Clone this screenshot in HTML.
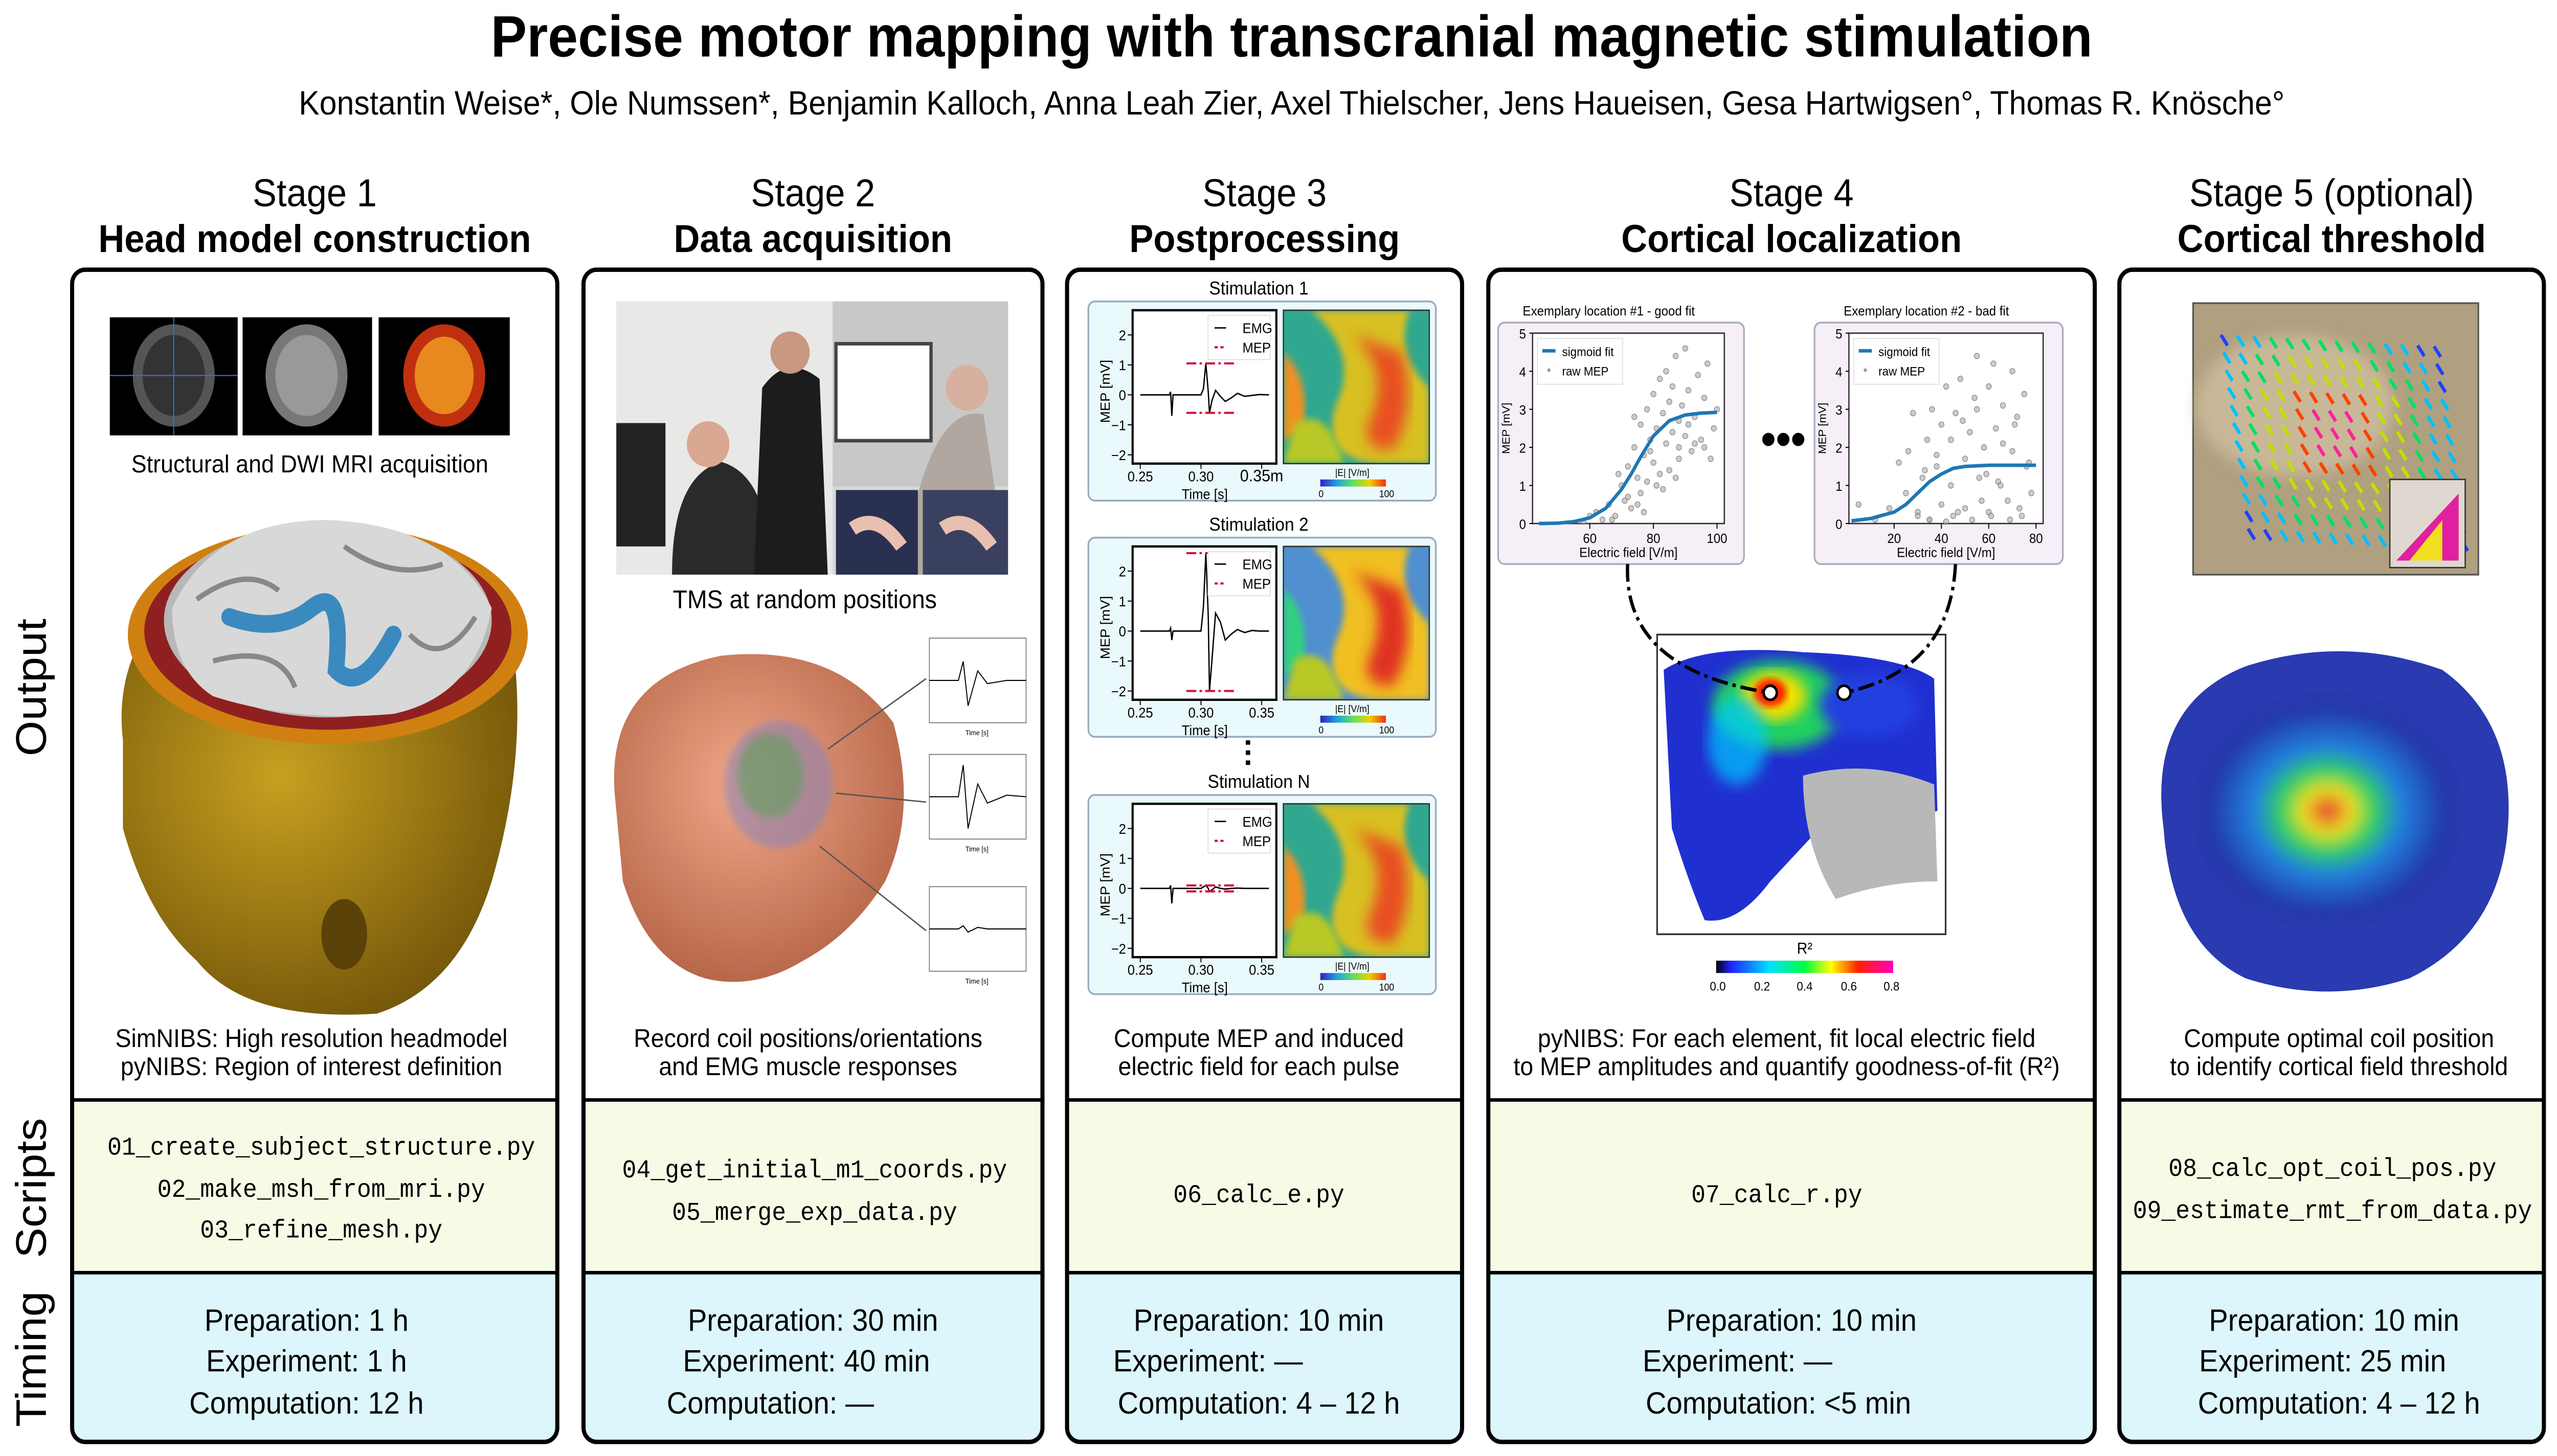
<!DOCTYPE html>
<html><head><meta charset="utf-8"><style>html,body{margin:0;padding:0;background:#fff;width:100%;height:100%;overflow:hidden}svg{display:block;width:100vw;height:100vh}text{font-family:"Liberation Sans",sans-serif}.mono{font-family:"Liberation Mono",monospace}</style></head>
<body>
<svg id="fig" xmlns="http://www.w3.org/2000/svg" viewBox="0 0 1560 826" preserveAspectRatio="none">
<defs>
<filter id="blur4"><feGaussianBlur stdDeviation="4"/></filter>
<filter id="blur2"><feGaussianBlur stdDeviation="2"/></filter>
<linearGradient id="jet" x1="0" x2="1"><stop offset="0" stop-color="#3020c0"/><stop offset=".25" stop-color="#20a0e0"/><stop offset=".5" stop-color="#60e060"/><stop offset=".75" stop-color="#f0d000"/><stop offset="1" stop-color="#f03010"/></linearGradient>
<linearGradient id="hsv" x1="0" x2="1"><stop offset="0" stop-color="#000"/><stop offset=".08" stop-color="#2020ff"/><stop offset=".3" stop-color="#00e0ff"/><stop offset=".5" stop-color="#00ff40"/><stop offset=".65" stop-color="#ffff00"/><stop offset=".8" stop-color="#ff2000"/><stop offset="1" stop-color="#ff00c0"/></linearGradient>
<radialGradient id="brainblue" cx=".5" cy=".5" r=".5"><stop offset="0" stop-color="#e03030"/><stop offset=".2" stop-color="#f0e020"/><stop offset=".38" stop-color="#30d060"/><stop offset=".6" stop-color="#2080e0"/><stop offset="1" stop-color="#2030a0"/></radialGradient>
<radialGradient id="headg" cx=".45" cy=".4" r=".6"><stop offset="0" stop-color="#f0a888"/><stop offset="1" stop-color="#b8684a"/></radialGradient>
<radialGradient id="head1" cx=".4" cy=".4" r=".7"><stop offset="0" stop-color="#c8a020"/><stop offset="1" stop-color="#6e5208"/></radialGradient>
</defs>
<rect width="1560" height="826" fill="#fff"/>
<text x="788" y="32" font-size="33" font-weight="bold" text-anchor="middle">Precise motor mapping with transcranial magnetic stimulation</text>
<text x="788" y="65" font-size="19" text-anchor="middle">Konstantin Weise*, Ole Numssen*, Benjamin Kalloch, Anna Leah Zier, Axel Thielscher, Jens Haueisen, Gesa Hartwigsen°, Thomas R. Knösche°</text>

<g font-size="26">
<text transform="translate(28,390) rotate(-90)" text-anchor="middle">Output</text>
<text transform="translate(28,674) rotate(-90)" text-anchor="middle">Scripts</text>
<text transform="translate(28,771) rotate(-90)" text-anchor="middle">Timing</text>
</g>

<g id="panels"></g>

<g>
<rect x="67" y="180" width="78" height="67" fill="#000"/><ellipse cx="106" cy="213" rx="25" ry="29" fill="#555"/><ellipse cx="106" cy="213" rx="19" ry="23" fill="#333"/>
<rect x="148" y="180" width="79" height="67" fill="#000"/><ellipse cx="187" cy="213" rx="25" ry="29" fill="#777"/><ellipse cx="187" cy="213" rx="19" ry="23" fill="#999"/>
<rect x="231" y="180" width="80" height="67" fill="#000"/><ellipse cx="271" cy="213" rx="25" ry="29" fill="#c03010"/><ellipse cx="271" cy="213" rx="18" ry="22" fill="#f0a020" opacity=".8"/>
<line x1="67" y1="213" x2="145" y2="213" stroke="#4070c0" stroke-width=".6"/><line x1="106" y1="180" x2="106" y2="247" stroke="#4070c0" stroke-width=".6"/>
</g>
<text x="189" y="268" font-size="14" text-anchor="middle">Structural and DWI MRI acquisition</text>
<g>
<path d="M75 420 Q70 380 95 350 L310 350 Q325 420 300 500 Q280 560 230 575 Q150 580 120 545 Q90 520 75 470 Z" fill="url(#head1)"/>
<ellipse cx="210" cy="530" rx="14" ry="20" fill="#5a4208"/>
<ellipse cx="200" cy="360" rx="122" ry="62" fill="#d08010"/>
<ellipse cx="200" cy="358" rx="112" ry="56" fill="#902020"/>
<ellipse cx="200" cy="352" rx="100" ry="55" fill="#b8b8b8"/>
<path d="M105 345 Q130 295 200 295 Q275 298 300 345 Q290 395 240 405 Q180 410 130 395 Q105 380 105 345Z" fill="#d8d8d8"/>
<path d="M120 340 Q150 320 170 335 M210 310 Q240 330 270 320 M130 375 Q170 365 180 390 M250 360 Q270 380 290 350" fill="none" stroke="#888" stroke-width="3"/>
<path d="M140 350 Q170 360 190 345 Q210 330 205 380 Q220 395 240 360" fill="none" stroke="#3a8ac0" stroke-width="10" stroke-linecap="round"/>
</g>
<text x="190" y="594" font-size="14.5" text-anchor="middle">SimNIBS: High resolution headmodel</text>
<text x="190" y="610" font-size="14.5" text-anchor="middle">pyNIBS: Region of interest definition</text>

<g>
<rect x="376" y="171" width="239" height="155" fill="#d8d8d8"/>
<rect x="376" y="171" width="132" height="155" fill="#e8e8e6"/>
<rect x="508" y="171" width="107" height="105" fill="#c8c8c8"/>
<rect x="376" y="240" width="30" height="70" fill="#222"/>
<rect x="510" y="195" width="58" height="55" fill="#fff" stroke="#444" stroke-width="2"/>
<path d="M410 326 Q410 270 440 262 Q470 270 470 326Z" fill="#2a2a2a"/><circle cx="432" cy="252" r="13" fill="#d8a890"/>
<path d="M460 326 L465 220 Q480 200 500 215 L505 326Z" fill="#1c1c1c"/><circle cx="482" cy="200" r="12" fill="#c89880"/>
<path d="M560 280 Q575 230 600 235 L615 326 L560 326Z" fill="#b0a8a0"/><circle cx="590" cy="220" r="13" fill="#d8b0a0"/>
<rect x="510" y="278" width="50" height="48" fill="#2a3050"/><rect x="563" y="278" width="52" height="48" fill="#3a4060"/>
<path d="M520 300 Q535 290 550 310" stroke="#e8c0b0" stroke-width="8" fill="none"/><path d="M575 300 Q590 290 605 310" stroke="#e8c0b0" stroke-width="8" fill="none"/>
</g>
<text x="491" y="345" font-size="14.5" text-anchor="middle">TMS at random positions</text>
<g>
<path d="M375 450 Q370 385 440 372 Q510 365 545 410 Q560 460 540 500 Q520 530 490 545 Q460 562 430 555 Q395 545 380 500Z" fill="url(#headg)"/>
<ellipse cx="475" cy="445" rx="33" ry="36" fill="#8080c0" opacity=".5" filter="url(#blur2)"/>
<ellipse cx="470" cy="440" rx="20" ry="24" fill="#50a050" opacity=".5" filter="url(#blur2)"/>
<path d="M505 425 L565 385 M510 450 L565 455 M500 480 L565 528" stroke="#555" stroke-width=".8" fill="none"/>
</g>
<g id="mini"></g>
<text x="493" y="594" font-size="14.5" text-anchor="middle">Record coil positions/orientations</text>
<text x="493" y="610" font-size="14.5" text-anchor="middle">and EMG muscle responses</text>

<g id="stim"></g>
<text x="765" y="432" font-size="18" font-weight="bold" text-anchor="middle" transform="rotate(90 765 427)">…</text>
<text x="768" y="594" font-size="14.5" text-anchor="middle">Compute MEP and induced</text>
<text x="768" y="610" font-size="14.5" text-anchor="middle">electric field for each pulse</text>

<g id="fits"></g>
<text x="1088" y="258" font-size="26" font-weight="bold" text-anchor="middle">•••</text>
<g>
<rect x="1011" y="360" width="176" height="170" fill="#fff" stroke="#333" stroke-width="1"/>
<path d="M1015 380 Q1040 365 1100 370 Q1160 372 1180 385 L1182 460 Q1150 470 1120 460 Q1100 480 1080 500 Q1060 525 1040 522 Q1030 500 1020 470 Z" fill="#2030d0"/>
<ellipse cx="1085" cy="400" rx="40" ry="25" fill="#20d060" filter="url(#blur4)"/>
<ellipse cx="1082" cy="395" rx="20" ry="14" fill="#f0e000" filter="url(#blur4)"/>
<ellipse cx="1080" cy="393" rx="10" ry="8" fill="#ff2000" filter="url(#blur2)"/>
<ellipse cx="1060" cy="420" rx="18" ry="25" fill="#00c8ff" opacity=".7" filter="url(#blur4)"/>
<path d="M1100 440 Q1140 430 1180 445 L1182 500 Q1150 500 1120 510 Q1100 480 1100 440Z" fill="#b8b8b8"/>
<ellipse cx="1140" cy="400" rx="30" ry="18" fill="#2040e0" filter="url(#blur4)"/>
</g>
<path d="M993 320 Q990 380 1080 393" fill="none" stroke="#000" stroke-width="2" stroke-dasharray="10 3 2 3"/>
<path d="M1193 320 Q1190 380 1125 393" fill="none" stroke="#000" stroke-width="2" stroke-dasharray="10 3 2 3"/>
<circle cx="1080" cy="393" r="4" fill="#fff" stroke="#000" stroke-width="1.5"/>
<circle cx="1125" cy="393" r="4" fill="#fff" stroke="#000" stroke-width="1.5"/>
<g>
<text x="1101" y="541" font-size="9" text-anchor="middle">R²</text>
<rect x="1047" y="545" width="108" height="7" fill="url(#hsv)"/>
<g font-size="7" text-anchor="middle"><text x="1048" y="562">0.0</text><text x="1075" y="562">0.2</text><text x="1101" y="562">0.4</text><text x="1128" y="562">0.6</text><text x="1154" y="562">0.8</text></g>
</g>
<text x="1090" y="594" font-size="14.5" text-anchor="middle">pyNIBS: For each element, fit local electric field</text>
<text x="1090" y="610" font-size="14.5" text-anchor="middle">to MEP amplitudes and quantify goodness-of-fit (R²)</text>

<g>
<rect x="1338" y="172" width="174" height="154" fill="#b0a080" stroke="#555"/>
<ellipse cx="1400" cy="230" rx="60" ry="40" fill="#c8b898" filter="url(#blur4)"/>
<g id="arrows"></g>
<rect x="1458" y="272" width="46" height="50" fill="#e0d8d0" stroke="#333" stroke-width=".8"/>
<path d="M1462 318 L1500 280 L1500 318Z" fill="#e020a0"/><path d="M1470 318 L1490 295 L1490 318Z" fill="#f0e020"/>
</g>
<g>
<path d="M1320 470 Q1310 400 1370 378 Q1430 360 1490 380 Q1535 410 1530 470 Q1525 530 1470 555 Q1420 570 1370 555 Q1325 535 1320 470Z" fill="#2a3ab0"/>
<ellipse cx="1420" cy="460" rx="75" ry="60" fill="url(#brainblue)" filter="url(#blur4)"/>
</g>
<text x="1427" y="594" font-size="14.5" text-anchor="middle">Compute optimal coil position</text>
<text x="1427" y="610" font-size="14.5" text-anchor="middle">to identify cortical field threshold</text>

<g class="mono" font-size="14.5" text-anchor="middle">
<text class="mono" x="196" y="655">01_create_subject_structure.py</text>
<text class="mono" x="196" y="679">02_make_msh_from_mri.py</text>
<text class="mono" x="196" y="702">03_refine_mesh.py</text>
<text class="mono" x="497" y="668">04_get_initial_m1_coords.py</text>
<text class="mono" x="497" y="692">05_merge_exp_data.py</text>
<text class="mono" x="768" y="682">06_calc_e.py</text>
<text class="mono" x="1084" y="682">07_calc_r.py</text>
<text class="mono" x="1423" y="667">08_calc_opt_coil_pos.py</text>
<text class="mono" x="1423" y="691">09_estimate_rmt_from_data.py</text>
</g>
<g font-size="17.5" text-anchor="middle">
<text x="187" y="755">Preparation: 1 h</text><text x="187" y="778">Experiment: 1 h</text><text x="187" y="802">Computation: 12 h</text>
<text x="496" y="755">Preparation: 30 min</text><text x="492" y="778">Experiment: 40 min</text><text x="470" y="802">Computation: —</text>
<text x="768" y="755">Preparation: 10 min</text><text x="737" y="778">Experiment: —</text><text x="768" y="802">Computation: 4 – 12 h</text>
<text x="1093" y="755">Preparation: 10 min</text><text x="1060" y="778">Experiment: —</text><text x="1085" y="802">Computation: &lt;5 min</text>
<text x="1424" y="755">Preparation: 10 min</text><text x="1417" y="778">Experiment: 25 min</text><text x="1427" y="802">Computation: 4 – 12 h</text>
</g>
<g font-size="22" text-anchor="middle" id="heads"></g>
</svg>
<script>
const NS="http://www.w3.org/2000/svg";
function mk(tag,attrs,parent){const e=document.createElementNS(NS,tag);for(const k in attrs)e.setAttribute(k,attrs[k]);if(parent)parent.appendChild(e);return e;}

const stageNames=["Stage 1","Stage 2","Stage 3","Stage 4","Stage 5 (optional)"];
const stageTitles=["Head model construction","Data acquisition","Postprocessing","Cortical localization","Cortical threshold"];
const panelX=[[44,340],[356,636],[651,892],[908,1278],[1293,1552]];
const P=document.getElementById('panels'),H=document.getElementById('heads');
panelX.forEach((p,i)=>{
  const g=mk('g',{},P);
  
  
  const cp=mk('clipPath',{id:'cp'+i},g);mk('rect',{x:p[0],y:153,width:p[1]-p[0],height:665,rx:8},cp);
  const b=mk('g',{'clip-path':'url(#cp'+i+')'},g);
  mk('rect',{x:p[0],y:624,width:p[1]-p[0],height:98,fill:'#f6fbe6'},b);
  mk('rect',{x:p[0],y:722,width:p[1]-p[0],height:96,fill:'#dcf6fb'},b);
  mk('line',{x1:p[0],x2:p[1],y1:624,y2:624,stroke:'#000','stroke-width':2},g);
  mk('line',{x1:p[0],x2:p[1],y1:722,y2:722,stroke:'#000','stroke-width':2},g);
  mk('rect',{x:p[0],y:153,width:p[1]-p[0],height:665,rx:8,fill:'none',stroke:'#000','stroke-width':2.5},g);
  const cx=(p[0]+p[1])/2;
  const t1=mk('text',{x:cx,y:117},H);t1.textContent=stageNames[i];
  
  
  const t2=mk('text',{x:cx,y:143,'font-weight':'bold'},H);t2.textContent=stageTitles[i];
  
  
});

const emgTime=[0.250,0.274,0.275,0.276,0.277,0.300,0.302,0.304,0.306,0.307,0.309,0.312,0.316,0.320,0.325,0.330,0.336,0.342,0.348,0.356];
const emgStim1=[0,0,0.1,-0.7,0,0,0.2,1.05,0.1,-0.6,-0.2,0.15,-0.05,-0.22,-0.1,0.05,-0.05,-0.02,0.01,0];
const emgStim2=[0,0,0.1,-0.3,0,0,0.8,2.6,0.5,-2.0,-1.0,0.6,0.3,-0.3,-0.1,0.05,-0.05,0.02,0,0];
const emgStim3=[0,0,0.1,-0.5,0,0,0.05,0.1,0,-0.1,-0.05,0.05,0,-0.02,0,0.01,0,0,0,0];
const mepMax=[1.05,2.6,0.1];
const mepMin=[-0.6,-2.0,-0.1];
const stimTitles=["Stimulation 1","Stimulation 2","Stimulation N"];
const xTicks3=[0.25,0.30,0.35];
const xTickLabels3=["0.25","0.30","0.35m"];
const yTicks3=[-2,-1,0,1,2];
const S=document.getElementById('stim');
[emgStim1,emgStim2,emgStim3].forEach((ser,i)=>{
  const off=[0,134,280][i];
  const g=mk('g',{transform:'translate(0,'+off+')'},S);
  
  
  const tt=mk('text',{x:768,y:167,'font-size':10.5,'text-anchor':'middle'},g);tt.textContent=stimTitles[i];
  mk('rect',{x:664,y:171,width:212,height:113,rx:4,fill:'#eaf9fb',stroke:'#9ab','stroke-width':1},g);
  const X=v=>691+(v-0.2437)/(0.3621-0.2437)*87.7, Y=v=>224-v*17;
  mk('rect',{x:691,y:176,width:87.7,height:87,fill:'#fff',stroke:'#000','stroke-width':1.3},g);
  xTicks3.forEach((t,k)=>{mk('line',{x1:X(t),x2:X(t),y1:263,y2:266,stroke:'#000','stroke-width':.6},g);
    const l=mk('text',{x:X(t),y:273,'font-size':k==2&&i==0?9.5:8,'text-anchor':'middle'},g);l.textContent=(i==0?xTickLabels3[k]:["0.25","0.30","0.35"][k]);});
  yTicks3.forEach(t=>{mk('line',{x1:688,x2:691,y1:Y(t),y2:Y(t),stroke:'#000','stroke-width':.6},g);
    const l=mk('text',{x:687,y:Y(t)+3,'font-size':8,'text-anchor':'end'},g);l.textContent=t<0?'\u2212'+(-t):t;});
  const xl=mk('text',{x:735,y:283,'font-size':8,'text-anchor':'middle'},g);xl.textContent='Time [s]';
  const yl=mk('text',{x:0,y:0,'font-size':8,'text-anchor':'middle',transform:'translate(677,222) rotate(-90)'},g);yl.textContent='MEP [mV]';
  const pts=ser.map((v,k)=>X(emgTime[k])+','+Math.max(176,Math.min(263,Y(v)))).join(' ');
  const pl=mk('polyline',{points:pts,fill:'none',stroke:'#000','stroke-width':.8},g);
  
  
  [mepMax[i],mepMin[i]].forEach(v=>{const l=mk('line',{x1:X(0.288),x2:X(0.330),y1:Math.max(177,Y(v)),y2:Math.max(177,Y(v)),stroke:'#d0103a','stroke-width':1.2,'stroke-dasharray':'6 2 1.5 2'},g);
    
    });
  mk('rect',{x:737,y:179,width:38,height:25,fill:'#fff',stroke:'#ddd','stroke-width':.5},g);
  mk('line',{x1:741,x2:748,y1:186,y2:186,stroke:'#000','stroke-width':.8},g);
  mk('line',{x1:741,x2:748,y1:197,y2:197,stroke:'#d0103a','stroke-width':1.2,'stroke-dasharray':'2 1.5'},g);
  const e1=mk('text',{x:758,y:189,'font-size':8},g);e1.textContent='EMG';
  const e2=mk('text',{x:758,y:200,'font-size':8},g);e2.textContent='MEP';
  const cid='ef'+i;const cp=mk('clipPath',{id:cid},g);mk('rect',{x:783,y:176,width:89,height:87},cp);
  const m=mk('g',{'clip-path':'url(#'+cid+')'},g);
  
  
  mk('rect',{x:783,y:176,width:89,height:87,fill:i==1?'#5090d0':'#30a890'},m);
  const cols=i==1?['#e03020','#f0c020','#30d080']:['#e85020','#d8c020','#f09020'];
  mk('path',{d:'M800 176 Q830 200 815 230 Q805 260 840 263 L872 263 L872 220 Q850 200 860 176Z',fill:cols[1],filter:'url(#blur2)'},m);
  mk('path',{d:'M825 190 Q850 210 835 240 Q830 255 850 255 Q865 230 855 200Z',fill:cols[0],filter:'url(#blur4)'},m);
  mk('path',{d:'M783 200 Q800 215 795 245 L783 250Z',fill:cols[2],filter:'url(#blur2)'},m);
  mk('path',{d:'M790 240 Q810 230 820 263 L783 263Z',fill:'#b8c828',filter:'url(#blur2)'},m);
  mk('rect',{x:783,y:176,width:89,height:87,fill:'none',stroke:'#333','stroke-width':.8},g);
  mk('rect',{x:805.5,y:272,width:40,height:4,fill:'url(#jet)'},g);
  const c1=mk('text',{x:825,y:270,'font-size':5.5,'text-anchor':'middle'},g);c1.textContent='|E| [V/m]';
  const c2=mk('text',{x:806,y:282,'font-size':5.5,'text-anchor':'middle'},g);c2.textContent='0';
  const c3=mk('text',{x:846,y:282,'font-size':5.5,'text-anchor':'middle'},g);c3.textContent='100';
});

const miniTraceA=[0,0,0.6,-0.8,0.3,-0.1,0,0];
const miniTraceB=[0,0,1.0,-1.0,0.4,-0.2,0.05,0];
const miniTraceC=[0,0,0.1,-0.1,0.05,0,0,0];
const miniTime=[0,0.3,0.35,0.4,0.5,0.6,0.8,1];
const M=document.getElementById('mini');
[[miniTraceA,362],[miniTraceB,428],[miniTraceC,503]].forEach(([tr,y0])=>{
  const g=mk('g',{},M);
  
  
  mk('rect',{x:567,y:y0,width:59,height:48,fill:'#fff',stroke:'#888','stroke-width':.6},g);
  const pts=tr.map((v,k)=>(567+miniTime[k]*59)+','+(y0+24-v*18)).join(' ');
  mk('polyline',{points:pts,fill:'none',stroke:'#000','stroke-width':.6},g);
  const t=mk('text',{x:596,y:y0+55,'font-size':4,'text-anchor':'middle'},g);t.textContent='Time [s]';
});

const fit1Field=[44,50,55,60,65,70,73,76,80,85,90,95,100];
const fit1Mep=[0,0.01,0.05,0.15,0.4,0.9,1.3,1.75,2.3,2.7,2.85,2.9,2.92];
const raw1Field=[62,66,68,70,71,72,73,74,75,76,76,77,78,78,79,80,80,81,82,82,83,84,84,85,86,86,87,88,88,89,90,90,91,92,93,94,95,96,97,98,99,100,67,69,72,74,77,79,83,85,88,91,60,64,58,75,81,87,93,96];
const raw1Mep=[0.3,0.5,0.2,1.0,0.6,1.5,0.4,2.0,1.2,2.6,0.8,1.8,3.0,1.1,2.2,3.4,1.6,2.5,3.8,1.3,2.9,4.0,2.1,3.2,2.4,3.6,4.4,2.7,1.7,3.1,4.6,2.3,3.5,1.9,2.8,3.9,2.2,3.3,4.2,1.7,2.5,3.0,0.1,1.3,0.7,2.8,0.3,1.9,0.9,1.4,2.0,2.6,0.2,0.1,0.05,0.5,1.0,1.2,2.1,2.0];
const fit2Field=[2,10,20,25,30,35,40,45,50,60,70,80];
const fit2Mep=[0.07,0.13,0.3,0.5,0.8,1.1,1.3,1.45,1.5,1.53,1.53,1.53];
const raw2Field=[5,12,18,22,25,28,30,32,34,35,36,38,40,40,42,44,45,46,48,50,50,52,54,55,56,58,60,60,62,63,64,66,68,70,70,72,74,75,76,78,30,35,42,47,53,57,61,65,69,73,38,44,49,55,59,66,71,77,26,33];
const raw2Mep=[0.5,0.1,0.4,1.6,0.8,2.9,0.3,1.2,2.2,0.1,3.0,1.5,0.5,2.6,3.6,1.0,0.2,2.9,3.8,1.7,0.4,2.4,3.3,4.4,1.2,2.0,3.6,0.3,4.2,2.5,1.1,3.1,0.6,4.0,1.9,2.8,0.2,3.4,1.5,0.8,0.2,0.1,0.05,0.3,0.1,0.6,0.2,1.0,0.1,0.4,1.8,2.2,2.7,3.0,1.3,2.1,2.6,1.6,1.9,1.4];
const fitTitles=["Exemplary location #1  - good fit","Exemplary location #2 - bad fit"];
const xTicks4=[[60,80,100],[20,40,60,80]];
const yTicks4=[0,1,2,3,4,5];
const F=document.getElementById('fits');
[[fit1Field,fit1Mep,raw1Field,raw1Mep,935,1052,42,102.3],[fit2Field,fit2Mep,raw2Field,raw2Mep,1128,1246.5,0.9,83]].forEach((d,i)=>{
  const [ff,fm,rf,rm,x0,x1,d0,d1]=d;
  const g=mk('g',{},F);
  
  
  const X=v=>x0+(v-d0)/(d1-d0)*(x1-x0), Y=v=>297-v*21.6;
  const bx=x0-21;
  mk('rect',{x:bx,y:183,width:(x1-x0)+33,height:137,rx:4,fill:'#f6eff7',stroke:'#aab','stroke-width':1},g);
  const t=mk('text',{x:(x0+x1)/2-12,y:179,'font-size':7.5,'text-anchor':'middle'},g);t.textContent=fitTitles[i];
  mk('rect',{x:x0,y:189,width:x1-x0,height:108,fill:'#fff',stroke:'#333','stroke-width':.8},g);
  rf.forEach((v,k)=>{const c=mk('circle',{cx:X(v),cy:Y(rm[k]),r:1.6,fill:'#aaa','fill-opacity':.6,stroke:'#777','stroke-width':.3},g);
    
    });
  const pl=mk('polyline',{points:ff.map((v,k)=>X(v)+','+Y(fm[k])).join(' '),fill:'none',stroke:'#1f77b4','stroke-width':2},g);
  
  
  xTicks4[i].forEach(tk=>{mk('line',{x1:X(tk),x2:X(tk),y1:297,y2:300,stroke:'#000','stroke-width':.6},g);
    const l=mk('text',{x:X(tk),y:308,'font-size':7.5,'text-anchor':'middle'},g);l.textContent=tk;});
  yTicks4.forEach(tk=>{mk('line',{x1:x0-2,x2:x0,y1:Y(tk),y2:Y(tk),stroke:'#000','stroke-width':.6},g);
    const l=mk('text',{x:x0-4,y:Y(tk)+3,'font-size':7.5,'text-anchor':'end'},g);l.textContent=tk;});
  const xl=mk('text',{x:(x0+x1)/2,y:316,'font-size':7.5,'text-anchor':'middle'},g);xl.textContent='Electric field [V/m]';
  const yl=mk('text',{x:0,y:0,'font-size':6.5,'text-anchor':'middle',transform:'translate('+(x0-14)+',243) rotate(-90)'},g);yl.textContent='MEP [mV]';
  mk('rect',{x:x0+3,y:192,width:52,height:26,fill:'#fff',stroke:'#ddd','stroke-width':.5},g);
  mk('line',{x1:x0+6,x2:x0+14,y1:199,y2:199,stroke:'#1f77b4','stroke-width':2},g);
  mk('circle',{cx:x0+10,cy:210,r:1,fill:'#999'},g);
  const l1=mk('text',{x:x0+18,y:202,'font-size':7},g);l1.textContent='sigmoid fit';
  const l2=mk('text',{x:x0+18,y:213,'font-size':7},g);l2.textContent='raw MEP';
});

const A=document.getElementById('arrows');
const arrowColors=['#2040ff','#00c0ff','#00e060','#c0e000','#ff4000','#ff20a0'];
for(let r=0;r<12;r++)for(let c=0;c<14;c++){
  const x=1355+c*10+r*1.5, y=190+r*10+c*0.5;
  const dc=Math.hypot(c-6,r-5);
  const col=arrowColors[Math.max(0,5-Math.floor(dc/1.5))];
  mk('line',{x1:x,y1:y,x2:x+4,y2:y+6,stroke:col,'stroke-width':2},A);
}
</script>
</body></html>
